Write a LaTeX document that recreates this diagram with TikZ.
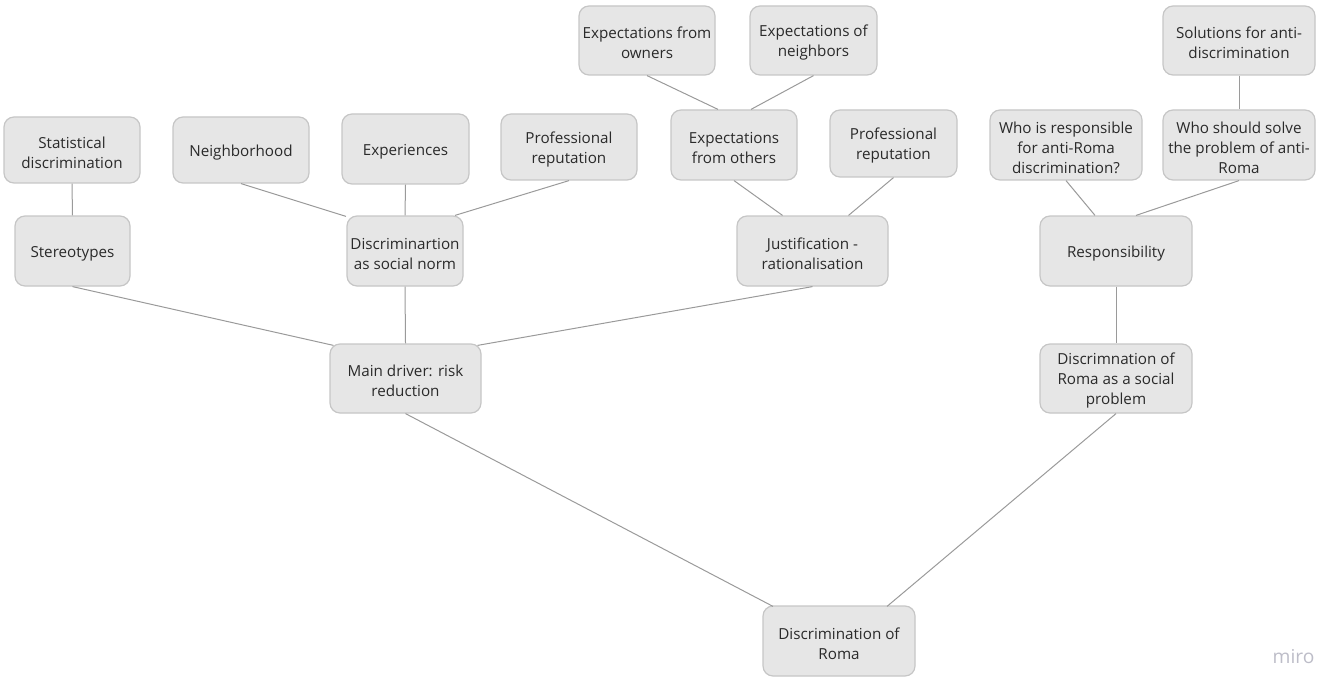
\documentclass[tikz,border=0pt]{standalone}
\usepackage{fontspec}
\setmainfont{Open Sans}
\usetikzlibrary{calc}
\definecolor{boxfill}{HTML}{E6E6E6}
\definecolor{boxline}{HTML}{C6C6C6}
\definecolor{conn}{HTML}{9A9A9A}
\definecolor{txt}{HTML}{2A2A2A}
\definecolor{logo}{HTML}{BDBDC8}
\tikzset{
  box/.style={draw=boxline, fill=boxfill, line width=0.6pt, rounded corners=5pt,
    inner sep=0pt},
  boxtext/.style={inner sep=0pt, align=center, text=txt,
    font=\fontsize{7.6pt}{10pt}\selectfont},
  link/.style={draw=conn, line width=0.5pt},
}
\newcommand{\bx}[6]{%
  \node[box, minimum width=#4*0.5pt, minimum height=#5*0.5pt] (#1) at (#2,#3) {};
  \node[boxtext] (#1-t) at ($(#1.center)+(0,2.5)$) {#6};}
\begin{document}
\begin{tikzpicture}[x=0.5pt, y=-0.5pt]
\useasboundingbox (0,0) rectangle (1325,684);
% boxes
\bx{stat}{72}{150}{136}{66}{Statistical\\discrimination}
\bx{neigh}{241}{150}{136}{66}{Neighborhood}
\bx{exper}{405.5}{149}{127}{70}{Experiences}
\bx{profa}{569}{147}{136}{66}{Professional\\reputation}
\bx{owners}{647}{40.5}{136}{69}{Expectations from\\owners}
\bx{neighbors}{813.5}{40.5}{127}{69}{Expectations of\\neighbors}
\bx{others}{734}{145}{126}{70}{Expectations\\from others}
\bx{profb}{893.5}{143.5}{127}{67}{Professional\\reputation}
\bx{whoresp}{1066}{145}{152}{70}{Who is responsible\\for anti-Roma\\discrimination?}
\bx{solve}{1239}{145}{152}{70}{Who should solve\\the problem of anti-\\Roma}
\bx{sol}{1239}{40.5}{152}{69}{Solutions for anti-\\discrimination}
\bx{stereo}{72.5}{251}{115}{70}{Stereotypes}
\bx{norm}{405}{251}{116}{70}{Discriminartion\\as social norm}
\bx{just}{812.5}{251}{151}{70}{Justification -\\rationalisation}
\bx{respons}{1116}{251}{152}{70}{Responsibility}
\bx{main}{405.5}{378.5}{151}{69}{Main driver: risk\\reduction}
\bx{social}{1116}{378.5}{152}{69}{Discrimnation of\\Roma as a social\\problem}
\bx{roma}{839}{641}{152}{70}{Discrimination of\\Roma}
% connectors
\draw[link] (stat.south) -- (stereo.north);
\draw[link] (neigh.south) -- ($(norm.north)+(-59,1)$);
\draw[link] (exper.south) -- (norm.north);
\draw[link] (profa.south) -- ($(norm.north)+(50,0)$);
\draw[link] (owners.south) -- ($(others.north)+(-16,0)$);
\draw[link] (neighbors.south) -- ($(others.north)+(17,0)$);
\draw[link] (others.south) -- ($(just.north)+(-30,0)$);
\draw[link] (profb.south) -- ($(just.north)+(36,0)$);
\draw[link] (whoresp.south) -- ($(respons.north)+(-21,0)$);
\draw[link] (solve.south) -- ($(respons.north)+(20,0)$);
\draw[link] (sol.south) -- (solve.north);
\draw[link] (stereo.south) -- ($(main.north)+(-72,2)$);
\draw[link] (norm.south) -- (main.north);
\draw[link] (just.south) -- ($(main.north)+(72,2)$);
\draw[link] (respons.south) -- (social.north);
\draw[link] (main.south) -- ($(roma.north)+(-66,1)$);
\draw[link] (social.south) -- ($(roma.north)+(48,1)$);
% logo
\node[text=logo, font=\fontsize{9.6pt}{11pt}\selectfont, inner sep=0pt] (miro) at (1293.5,657) {miro};
\end{tikzpicture}
\end{document}
